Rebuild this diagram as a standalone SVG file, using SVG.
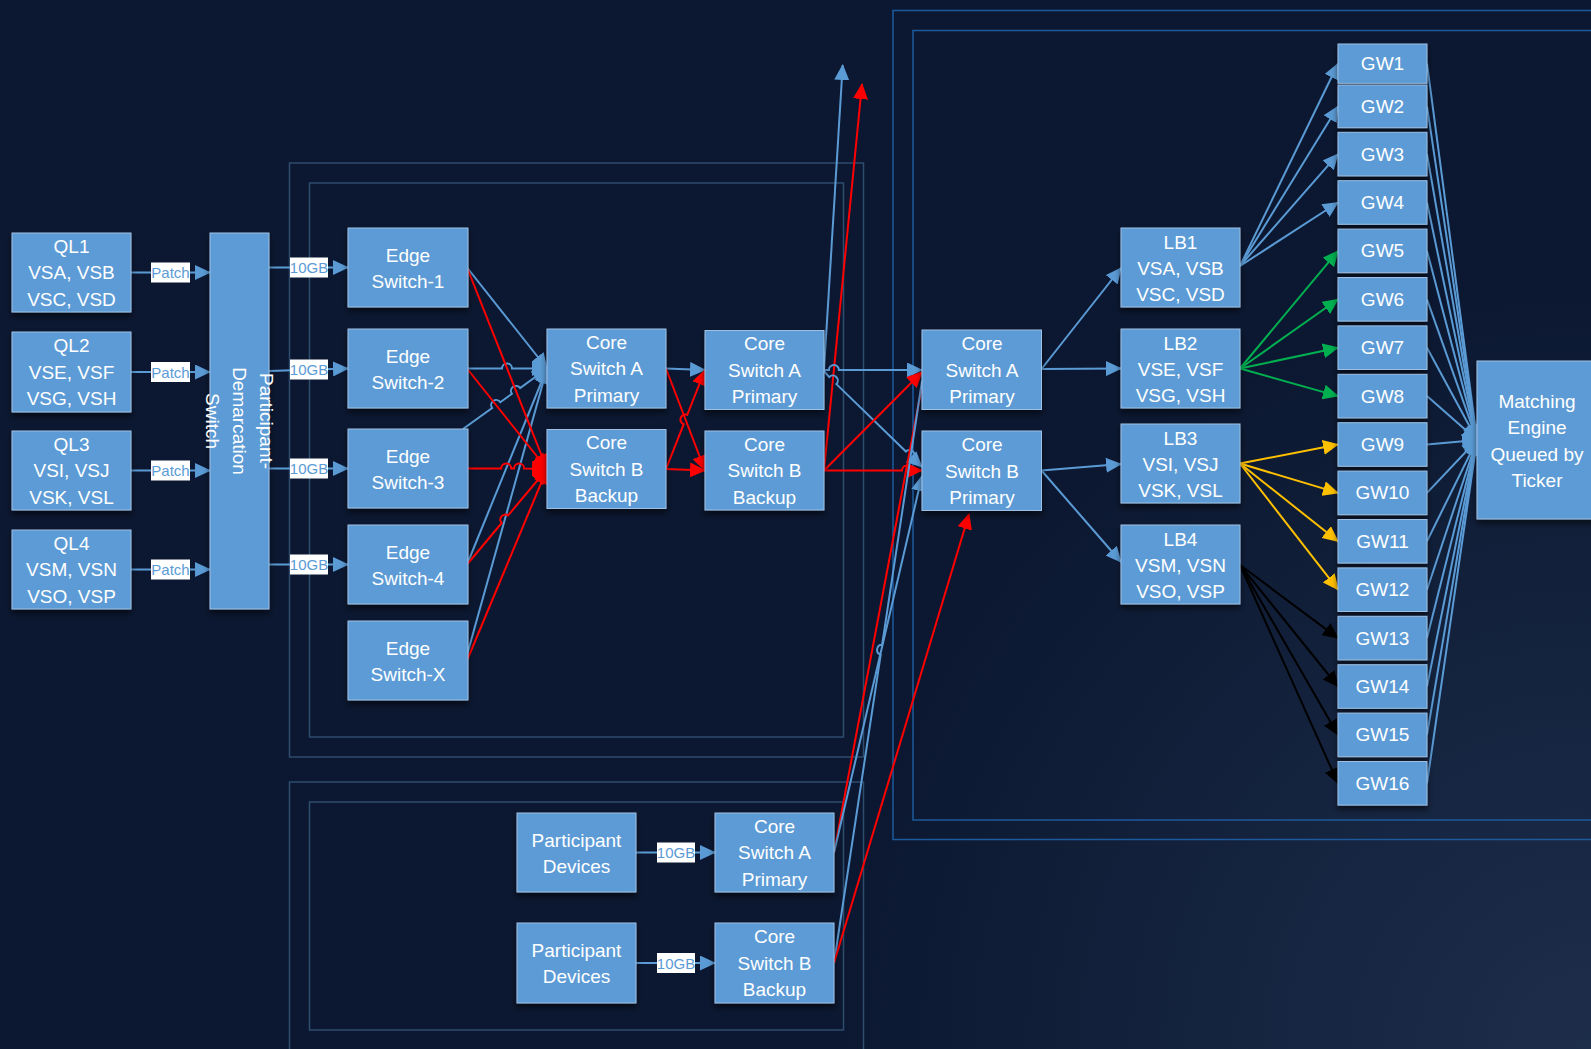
<svg xmlns="http://www.w3.org/2000/svg" width="1591" height="1049" viewBox="0 0 1591 1049">
<defs>
<radialGradient id="bg" gradientUnits="userSpaceOnUse" cx="1591" cy="1049" r="760">
<stop offset="0" stop-color="#1d2e4b"/>
<stop offset="1" stop-color="#0c1831"/>
</radialGradient>
<filter id="sh" x="-20%" y="-20%" width="140%" height="150%">
<feDropShadow dx="0" dy="4" stdDeviation="3" flood-color="#000" flood-opacity="0.55"/>
</filter>
<marker id="ab" viewBox="0 0 16 15" refX="15" refY="7.5" markerWidth="16" markerHeight="15" markerUnits="userSpaceOnUse" orient="auto"><path d="M0,0 L16,7.5 L0,15 z" fill="#5b9bd5"/></marker>
<marker id="ar" viewBox="0 0 16 15" refX="15" refY="7.5" markerWidth="16" markerHeight="15" markerUnits="userSpaceOnUse" orient="auto"><path d="M0,0 L16,7.5 L0,15 z" fill="#ff0000"/></marker>
<marker id="ag" viewBox="0 0 16 15" refX="15" refY="7.5" markerWidth="16" markerHeight="15" markerUnits="userSpaceOnUse" orient="auto"><path d="M0,0 L16,7.5 L0,15 z" fill="#00b050"/></marker>
<marker id="ay" viewBox="0 0 16 15" refX="15" refY="7.5" markerWidth="16" markerHeight="15" markerUnits="userSpaceOnUse" orient="auto"><path d="M0,0 L16,7.5 L0,15 z" fill="#ffc000"/></marker>
<marker id="ak" viewBox="0 0 16 15" refX="15" refY="7.5" markerWidth="16" markerHeight="15" markerUnits="userSpaceOnUse" orient="auto"><path d="M0,0 L16,7.5 L0,15 z" fill="#000000"/></marker>
</defs>
<style>
.cl{fill:none;stroke:#2d4c6e;stroke-width:1.5}
.cr{fill:none;stroke:#1c5a9c;stroke-width:1.5}
.n rect{fill:#5b9bd5;stroke:#9fc0e3;stroke-width:1;filter:url(#sh)}
.n text{font-family:"Liberation Sans",Arial,sans-serif;font-size:19px;fill:#ffffff;text-anchor:middle;dominant-baseline:central}
.lb rect{fill:#ffffff}
.lb text{font-family:"Liberation Sans",Arial,sans-serif;font-size:15px;fill:#5b9bd5;text-anchor:middle;dominant-baseline:central}
.c path{fill:none;stroke-width:2}
.b{stroke:#5b9bd5}
.r{stroke:#ff0000}
.g{stroke:#00b050}
.y{stroke:#ffc000}
.k{stroke:#000000}
.mb{marker-end:url(#ab)}
.mr{marker-end:url(#ar)}
.mg{marker-end:url(#ag)}
.my{marker-end:url(#ay)}
.mk{marker-end:url(#ak)}
</style>
<rect x="0" y="0" width="1591" height="1049" fill="url(#bg)"/>

<g id="containers">
<rect class="cl" x="289.5" y="163" width="574" height="594"/>
<rect class="cl" x="309.5" y="183" width="534" height="554"/>
<rect class="cl" x="289.5" y="782" width="574" height="290"/>
<rect class="cl" x="309.5" y="802" width="534" height="228"/>
<rect class="cr" x="893" y="10.5" width="740" height="829"/>
<rect class="cr" x="913" y="30.5" width="720" height="789.5"/>
</g>

<g id="connectors" class="c">
<path class="b mb" d="M131,272.5 H210"/>
<path class="b mb" d="M131,372 H210"/>
<path class="b mb" d="M131,470.5 H210"/>
<path class="b mb" d="M131,569.5 H210"/>
<path class="b mb" d="M269,267.5 H348"/>
<path class="b mb" d="M269,371 L348,368.5"/>
<path class="b mb" d="M269,468.5 H348"/>
<path class="b mb" d="M269,564.5 H348"/>
<path class="b mb" d="M467,267.5 L547,368.5"/>
<path class="b mb" d="M467,368.5 H502 A5,5 0 0 1 512,368.5 H547"/>
<path class="b mb" d="M463,429 L492.1,408 A5,5 0 0 1 500.3,402.2 L511.9,393.8 A5,5 0 0 1 520.1,388 L547,368.5"/>
<path class="b mb" d="M467,564.5 L547,368.5"/>
<path class="b mb" d="M467,655 L547,368.5"/>
<path class="r mr" d="M467,267.5 L547,469"/>
<path class="r mr" d="M467,368.5 L547,469"/>
<path class="r mr" d="M467,468.5 H501.2 A5,5 0 0 1 511.2,468.5 H514.1 A5,5 0 0 1 524.1,468.5 L547,469"/>
<path class="r mr" d="M467,564.5 L501.7,523 A5,5 0 0 1 508.1,515.4 L547,469"/>
<path class="r mr" d="M467,660.5 L547,469"/>
<path class="b mb" d="M666,368.5 L705,370"/>
<path class="r mr" d="M666,368.5 L705,470.5"/>
<path class="r mr" d="M666,469 L683.7,424.2 A5,5 0 0 1 687.3,414.8 L705,370"/>
<path class="r mr" d="M666,469 L705,470.5"/>
<path class="b mb" d="M824,370 L842.7,65"/>
<path class="r mr" d="M824,470.5 L862,84"/>
<path class="b mb" d="M824,370 H828.9 A5,5 0 0 1 838.9,370 H922"/>
<path class="b mb" d="M824,371 L829.2,377.1 A5,5 0 0 1 836.4,384.1 L905.9,451.5 A5,5 0 0 1 913.1,458.5 L922,467"/>
<path class="r mr" d="M824,470.5 L922,372"/>
<path class="r mr" d="M824,470.5 H902 A5,5 0 0 1 912,470.5 H922"/>
<path class="r" d="M834,852.5 L922,386"/>
<path class="b mb" d="M834,852.5 L922,476"/>
<path class="b" d="M834,963 L880.7,654.6 A5,5 0 0 1 882.1,644.8 L922,381"/>
<path class="r mr" d="M834,963 L969,514"/>
<path class="b mb" d="M636,852.5 H715"/>
<path class="b mb" d="M636,963 H715"/>
<path class="b mb" d="M1041.5,369 L1121,268"/>
<path class="b mb" d="M1041.5,369 L1121,368.5"/>
<path class="b mb" d="M1041.5,470.5 L1121,464"/>
<path class="b mb" d="M1041.5,470.5 L1121,562"/>
<path class="b mb" d="M1240,266 L1338,63.7"/>
<path class="b mb" d="M1240,266 L1338,106.4"/>
<path class="b mb" d="M1240,266 L1338,154.1"/>
<path class="b mb" d="M1240,266 L1338,202.5"/>
<path class="g mg" d="M1240,368.5 L1338,250.9"/>
<path class="g mg" d="M1240,368.5 L1338,299.3"/>
<path class="g mg" d="M1240,368.5 L1338,347.7"/>
<path class="g mg" d="M1240,368.5 L1338,396.1"/>
<path class="y my" d="M1240,463.5 L1338,444.5"/>
<path class="y my" d="M1240,463.5 L1338,492.9"/>
<path class="y my" d="M1240,463.5 L1338,541.3"/>
<path class="y my" d="M1240,463.5 L1338,589.7"/>
<path class="k mk" d="M1240,565 L1338,638.1"/>
<path class="k mk" d="M1240,565 L1338,686.5"/>
<path class="k mk" d="M1240,565 L1338,734.9"/>
<path class="k mk" d="M1240,565 L1338,783.3"/>
<path class="b mb" d="M1427,63.7 L1477,440"/>
<path class="b mb" d="M1427,106.4 L1477,440"/>
<path class="b mb" d="M1427,154.1 L1477,440"/>
<path class="b mb" d="M1427,202.5 L1477,440"/>
<path class="b mb" d="M1427,250.9 L1477,440"/>
<path class="b mb" d="M1427,299.3 L1477,440"/>
<path class="b mb" d="M1427,347.7 L1477,440"/>
<path class="b mb" d="M1427,396.1 L1477,440"/>
<path class="b mb" d="M1427,444.5 L1477,440"/>
<path class="b mb" d="M1427,492.9 L1477,440"/>
<path class="b mb" d="M1427,541.3 L1477,440"/>
<path class="b mb" d="M1427,589.7 L1477,440"/>
<path class="b mb" d="M1427,638.1 L1477,440"/>
<path class="b mb" d="M1427,686.5 L1477,440"/>
<path class="b mb" d="M1427,734.9 L1477,440"/>
<path class="b mb" d="M1427,783.3 L1477,440"/>
<g class="lb">
<rect x="151" y="262.5" width="39" height="20"/><text x="170.5" y="272.5">Patch</text>
<rect x="151" y="362" width="39" height="20"/><text x="170.5" y="372">Patch</text>
<rect x="151" y="460.5" width="39" height="20"/><text x="170.5" y="470.5">Patch</text>
<rect x="151" y="559.5" width="39" height="20"/><text x="170.5" y="569.5">Patch</text>
<rect x="290" y="257.5" width="38" height="20"/><text x="309" y="267.5">10GB</text>
<rect x="290" y="359.5" width="38" height="20"/><text x="309" y="369.5">10GB</text>
<rect x="290" y="458.5" width="38" height="20"/><text x="309" y="468.5">10GB</text>
<rect x="290" y="554.5" width="38" height="20"/><text x="309" y="564.5">10GB</text>
<rect x="657" y="842.5" width="38" height="20"/><text x="676" y="852.5">10GB</text>
<rect x="657" y="953" width="38" height="20"/><text x="676" y="963">10GB</text>
</g>
</g>

<g id="QL1" class="n"><rect x="12" y="233" width="119" height="79"/><text x="71.5" y="246">QL1</text><text x="71.5" y="272.5">VSA, VSB</text><text x="71.5" y="299">VSC, VSD</text></g>
<g id="QL2" class="n"><rect x="12" y="332" width="119" height="80"/><text x="71.5" y="345.5">QL2</text><text x="71.5" y="372">VSE, VSF</text><text x="71.5" y="398.5">VSG, VSH</text></g>
<g id="QL3" class="n"><rect x="12" y="431" width="119" height="79"/><text x="71.5" y="444">QL3</text><text x="71.5" y="470.5">VSI, VSJ</text><text x="71.5" y="497">VSK, VSL</text></g>
<g id="QL4" class="n"><rect x="12" y="530" width="119" height="79"/><text x="71.5" y="543">QL4</text><text x="71.5" y="569.5">VSM, VSN</text><text x="71.5" y="596">VSO, VSP</text></g>

<g id="demarc" class="n"><rect x="210" y="233" width="59" height="376"/>
<g transform="translate(239.5,421) rotate(90)"><text x="0" y="-27">Participant-</text><text x="0" y="0">Demarcation</text><text x="0" y="27">Switch</text></g></g>

<g id="edge1" class="n"><rect x="348" y="228" width="120" height="79"/><text x="408" y="255">Edge</text><text x="408" y="281">Switch-1</text></g>
<g id="edge2" class="n"><rect x="348" y="329" width="120" height="79"/><text x="408" y="356">Edge</text><text x="408" y="382">Switch-2</text></g>
<g id="edge3" class="n"><rect x="348" y="429" width="120" height="79"/><text x="408" y="456">Edge</text><text x="408" y="482">Switch-3</text></g>
<g id="edge4" class="n"><rect x="348" y="525" width="120" height="79"/><text x="408" y="552">Edge</text><text x="408" y="578">Switch-4</text></g>
<g id="edgeX" class="n"><rect x="348" y="621" width="120" height="79"/><text x="408" y="648">Edge</text><text x="408" y="674">Switch-X</text></g>

<g id="coreA1" class="n"><rect x="547" y="329" width="119" height="79"/><text x="606.5" y="342">Core</text><text x="606.5" y="368.5">Switch A</text><text x="606.5" y="395">Primary</text></g>
<g id="coreB1" class="n"><rect x="547" y="429.5" width="119" height="79"/><text x="606.5" y="442.5">Core</text><text x="606.5" y="469">Switch B</text><text x="606.5" y="495.5">Backup</text></g>
<g id="coreA2" class="n"><rect x="705" y="330.5" width="119" height="79"/><text x="764.5" y="343.5">Core</text><text x="764.5" y="370">Switch A</text><text x="764.5" y="396.5">Primary</text></g>
<g id="coreB2" class="n"><rect x="705" y="431" width="119" height="79"/><text x="764.5" y="444">Core</text><text x="764.5" y="470.5">Switch B</text><text x="764.5" y="497">Backup</text></g>
<g id="coreA3" class="n"><rect x="922" y="330" width="119.5" height="79.5"/><text x="982" y="343.5">Core</text><text x="982" y="370">Switch A</text><text x="982" y="396.5">Primary</text></g>
<g id="coreB3" class="n"><rect x="922" y="431" width="119.5" height="79.5"/><text x="982" y="444.5">Core</text><text x="982" y="471">Switch B</text><text x="982" y="497.5">Primary</text></g>

<g id="lb1" class="n"><rect x="1121" y="228" width="119" height="79"/><text x="1180.5" y="242">LB1</text><text x="1180.5" y="268">VSA, VSB</text><text x="1180.5" y="294">VSC, VSD</text></g>
<g id="lb2" class="n"><rect x="1121" y="329" width="119" height="79"/><text x="1180.5" y="343">LB2</text><text x="1180.5" y="369">VSE, VSF</text><text x="1180.5" y="395">VSG, VSH</text></g>
<g id="lb3" class="n"><rect x="1121" y="424" width="119" height="79"/><text x="1180.5" y="438">LB3</text><text x="1180.5" y="464">VSI, VSJ</text><text x="1180.5" y="490">VSK, VSL</text></g>
<g id="lb4" class="n"><rect x="1121" y="525" width="119" height="79"/><text x="1180.5" y="539">LB4</text><text x="1180.5" y="565">VSM, VSN</text><text x="1180.5" y="591">VSO, VSP</text></g>

<g id="gw1" class="n"><rect x="1338" y="44" width="89" height="39.3"/><text x="1382.5" y="63.7">GW1</text></g>
<g id="gw2" class="n"><rect x="1338" y="85" width="89" height="42.7"/><text x="1382.5" y="106.4">GW2</text></g>
<g id="gw3" class="n"><rect x="1338" y="132.3" width="89" height="43.6"/><text x="1382.5" y="154.1">GW3</text></g>
<g id="gw4" class="n"><rect x="1338" y="180.7" width="89" height="43.6"/><text x="1382.5" y="202.5">GW4</text></g>
<g id="gw5" class="n"><rect x="1338" y="229.1" width="89" height="43.6"/><text x="1382.5" y="250.9">GW5</text></g>
<g id="gw6" class="n"><rect x="1338" y="277.5" width="89" height="43.6"/><text x="1382.5" y="299.3">GW6</text></g>
<g id="gw7" class="n"><rect x="1338" y="325.9" width="89" height="43.6"/><text x="1382.5" y="347.7">GW7</text></g>
<g id="gw8" class="n"><rect x="1338" y="374.3" width="89" height="43.6"/><text x="1382.5" y="396.1">GW8</text></g>
<g id="gw9" class="n"><rect x="1338" y="422.7" width="89" height="43.6"/><text x="1382.5" y="444.5">GW9</text></g>
<g id="gw10" class="n"><rect x="1338" y="471.1" width="89" height="43.6"/><text x="1382.5" y="492.9">GW10</text></g>
<g id="gw11" class="n"><rect x="1338" y="519.5" width="89" height="43.6"/><text x="1382.5" y="541.3">GW11</text></g>
<g id="gw12" class="n"><rect x="1338" y="567.9" width="89" height="43.6"/><text x="1382.5" y="589.7">GW12</text></g>
<g id="gw13" class="n"><rect x="1338" y="616.3" width="89" height="43.6"/><text x="1382.5" y="638.1">GW13</text></g>
<g id="gw14" class="n"><rect x="1338" y="664.7" width="89" height="43.6"/><text x="1382.5" y="686.5">GW14</text></g>
<g id="gw15" class="n"><rect x="1338" y="713.1" width="89" height="43.6"/><text x="1382.5" y="734.9">GW15</text></g>
<g id="gw16" class="n"><rect x="1338" y="761.5" width="89" height="43.6"/><text x="1382.5" y="783.3">GW16</text></g>

<g id="matching" class="n"><rect x="1477" y="361" width="125" height="158"/><text x="1537" y="401">Matching</text><text x="1537" y="427.5">Engine</text><text x="1537" y="454">Queued by</text><text x="1537" y="480.5">Ticker</text></g>

<g id="pd1" class="n"><rect x="517" y="813" width="119" height="79"/><text x="576.5" y="840">Participant</text><text x="576.5" y="866">Devices</text></g>
<g id="pd2" class="n"><rect x="517" y="923" width="119" height="80"/><text x="576.5" y="950.5">Participant</text><text x="576.5" y="976.5">Devices</text></g>
<g id="coreA4" class="n"><rect x="715" y="813" width="119" height="79"/><text x="774.5" y="826">Core</text><text x="774.5" y="852.5">Switch A</text><text x="774.5" y="879">Primary</text></g>
<g id="coreB4" class="n"><rect x="715" y="923" width="119" height="80"/><text x="774.5" y="936.5">Core</text><text x="774.5" y="963">Switch B</text><text x="774.5" y="989.5">Backup</text></g>
</svg>
